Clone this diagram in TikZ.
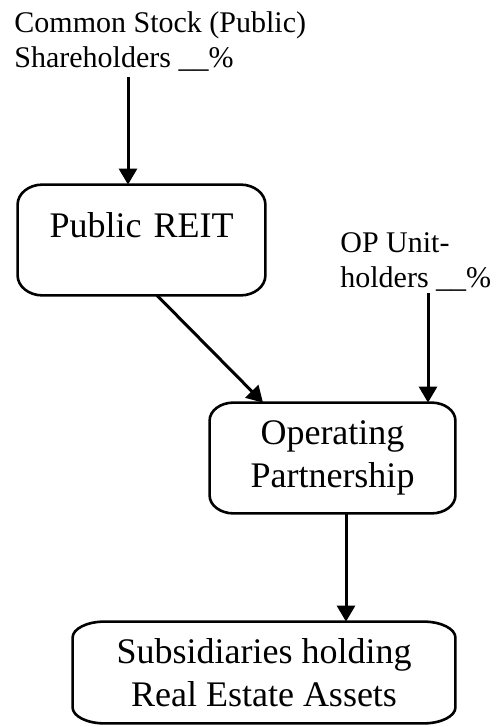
\documentclass[tikz,border=0pt]{standalone}
\usepackage{fontspec}
\setmainfont{Liberation Serif}
\usetikzlibrary{arrows.meta}
\tikzset{
  smalltext/.style={font=\fontsize{15pt}{17.5pt}\selectfont, align=left, inner sep=0pt},
  boxnode/.style={font=\fontsize{18pt}{21.5pt}\selectfont, align=center, inner sep=0pt},
  boxline/.style={line width=1.3pt},
  arr/.style={line width=1.5pt, -{Triangle[width=9pt,length=8pt]}}
}
\newcommand\ebox[3]{%
  \draw[boxline] ([xshift=#2]#1.north west) -- ([xshift=-#2]#1.north east)
    arc[start angle=90,end angle=0,x radius=#2,y radius=#3]
    -- ([yshift=#3]#1.south east)
    arc[start angle=0,end angle=-90,x radius=#2,y radius=#3]
    -- ([xshift=#2]#1.south west)
    arc[start angle=270,end angle=180,x radius=#2,y radius=#3]
    -- ([yshift=-#3]#1.north west)
    arc[start angle=180,end angle=90,x radius=#2,y radius=#3] -- cycle;}
\begin{document}
\begin{tikzpicture}[x=0.5pt,y=-0.5pt]
\useasboundingbox (0,0) rectangle (495,727);
% texts
\node[smalltext, anchor=north west] (cs) at (14,11) {Common Stock (Public)\\Shareholders \_\_\%};
\node[smalltext, anchor=north west] (opu) at (340,232) {OP Unit-\\holders \_\_\%};
% boxes
\node[boxnode, text width=123.5pt, text height=26pt, text depth=29pt, anchor=base] (reit) at (141.5,237) {Public REIT};
\node[boxnode, minimum width=122.5pt, minimum height=55pt] (op) at (332.5,458) {Operating\\Partnership};
\node[boxnode, minimum width=191pt, minimum height=50.5pt] (subs) at (264,672.5) {Subsidiaries holding\\Real Estate Assets};
\ebox{reit}{12.5pt}{10pt}
\ebox{op}{12pt}{9pt}
\ebox{subs}{16pt}{8pt}
% connectors
\coordinate (a1) at (128,77);
\draw[arr] (a1) -- (a1 |- reit.north);
\draw[arr] ([xshift=7.75pt]reit.south) -- ([xshift=-34.75pt]op.north);
\coordinate (a3) at (428,293);
\draw[arr] (a3) -- (a3 |- op.north);
\draw[arr] ([xshift=6.75pt]op.south) -- ([xshift=6.75pt]op.south |- subs.north);
\end{tikzpicture}
\end{document}
